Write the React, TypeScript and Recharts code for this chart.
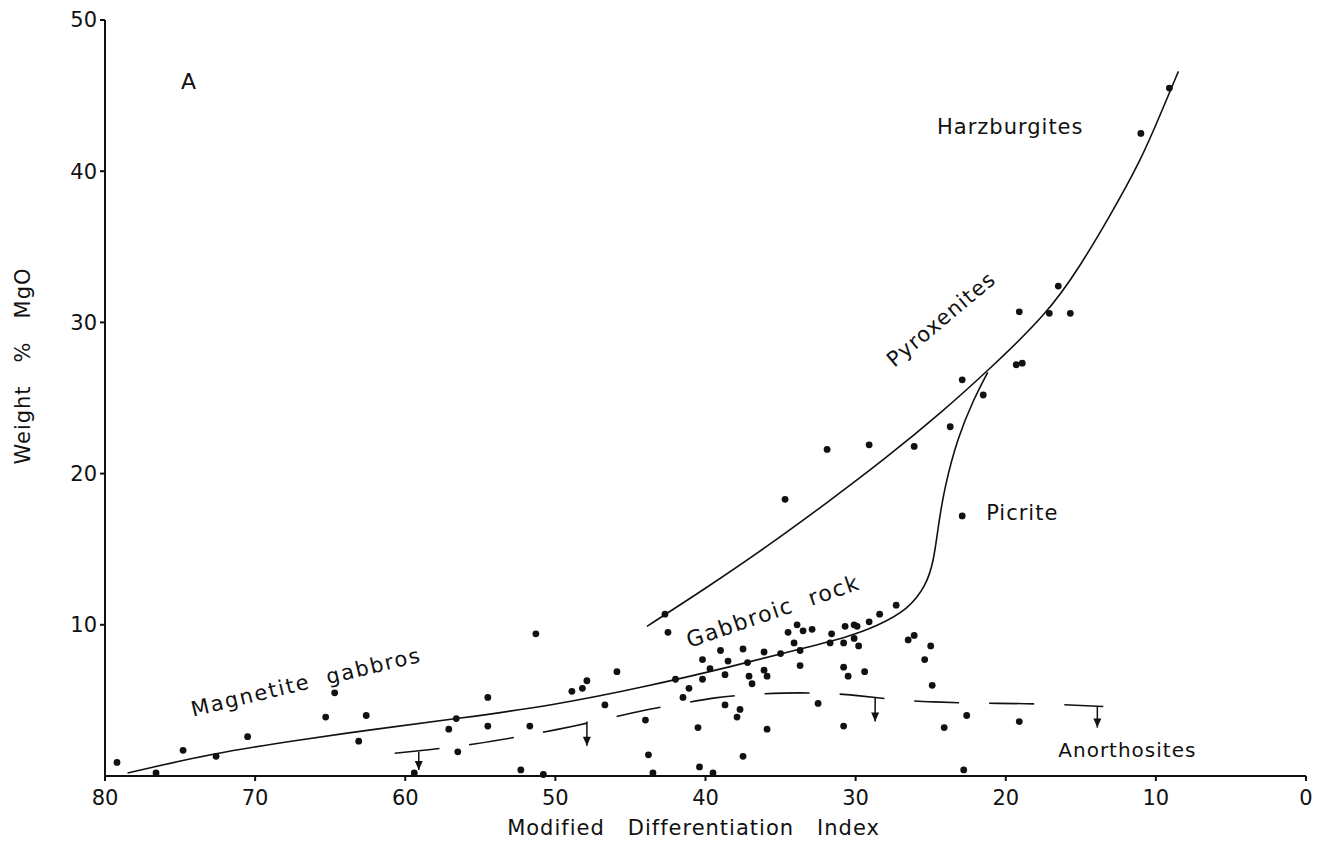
import React from "react";
import {
  ComposedChart,
  XAxis,
  YAxis,
  Scatter,
  Line,
  ReferenceLine,
  ReferenceDot,
} from "recharts";

// sample points (x = Modified Differentiation Index, y = wt% MgO)
const ultramaficPts = [
  { x: 9.1, y: 45.5 }, { x: 11.0, y: 42.5 }, { x: 16.5, y: 32.4 }, { x: 19.1, y: 30.7 },
  { x: 17.1, y: 30.6 }, { x: 15.7, y: 30.6 }, { x: 19.3, y: 27.2 }, { x: 18.9, y: 27.3 },
  { x: 22.9, y: 26.2 }, { x: 21.5, y: 25.2 }, { x: 23.7, y: 23.1 }, { x: 26.1, y: 21.8 },
  { x: 29.1, y: 21.9 }, { x: 31.9, y: 21.6 }, { x: 34.7, y: 18.3 }, { x: 22.9, y: 17.2 },
];

const gabbroPts = [
  { x: 42.7, y: 10.7 }, { x: 42.5, y: 9.5 }, { x: 40.2, y: 7.7 }, { x: 39.0, y: 8.3 },
  { x: 39.7, y: 7.1 }, { x: 38.5, y: 7.6 }, { x: 37.5, y: 8.4 }, { x: 37.2, y: 7.5 },
  { x: 38.7, y: 6.7 }, { x: 40.2, y: 6.4 }, { x: 42.0, y: 6.4 }, { x: 41.1, y: 5.8 },
  { x: 41.5, y: 5.2 }, { x: 37.1, y: 6.6 }, { x: 36.9, y: 6.1 }, { x: 36.1, y: 8.2 },
  { x: 36.1, y: 7.0 }, { x: 35.9, y: 6.6 }, { x: 35.0, y: 8.1 }, { x: 34.5, y: 9.5 },
  { x: 34.1, y: 8.8 }, { x: 33.9, y: 10.0 }, { x: 33.5, y: 9.6 }, { x: 33.7, y: 8.3 },
  { x: 32.9, y: 9.7 }, { x: 33.7, y: 7.3 }, { x: 31.6, y: 9.4 }, { x: 31.7, y: 8.8 },
  { x: 30.7, y: 9.9 }, { x: 30.8, y: 8.8 }, { x: 30.1, y: 10.0 }, { x: 29.9, y: 9.9 },
  { x: 30.1, y: 9.1 }, { x: 29.8, y: 8.6 }, { x: 30.8, y: 7.2 }, { x: 30.5, y: 6.6 },
  { x: 29.4, y: 6.9 }, { x: 29.1, y: 10.2 }, { x: 28.4, y: 10.7 }, { x: 27.3, y: 11.3 },
  { x: 26.5, y: 9.0 }, { x: 26.1, y: 9.3 }, { x: 25.0, y: 8.6 }, { x: 25.4, y: 7.7 },
  { x: 24.9, y: 6.0 },
];

const lowMgPts = [
  { x: 79.2, y: 0.9 }, { x: 76.6, y: 0.2 }, { x: 74.8, y: 1.7 }, { x: 72.6, y: 1.3 },
  { x: 70.5, y: 2.6 }, { x: 65.3, y: 3.9 }, { x: 64.7, y: 5.5 }, { x: 63.1, y: 2.3 },
  { x: 62.6, y: 4.0 }, { x: 59.4, y: 0.2 }, { x: 57.1, y: 3.1 }, { x: 56.6, y: 3.8 },
  { x: 56.5, y: 1.6 }, { x: 54.5, y: 5.2 }, { x: 54.5, y: 3.3 }, { x: 52.3, y: 0.4 },
  { x: 51.7, y: 3.3 }, { x: 51.3, y: 9.4 }, { x: 50.8, y: 0.1 }, { x: 48.9, y: 5.6 },
  { x: 48.2, y: 5.8 }, { x: 47.9, y: 6.3 }, { x: 46.7, y: 4.7 }, { x: 45.9, y: 6.9 },
  { x: 44.0, y: 3.7 }, { x: 43.8, y: 1.4 }, { x: 43.5, y: 0.2 }, { x: 40.5, y: 3.2 },
  { x: 38.7, y: 4.7 }, { x: 37.7, y: 4.4 }, { x: 37.9, y: 3.9 }, { x: 35.9, y: 3.1 },
  { x: 32.5, y: 4.8 }, { x: 30.8, y: 3.3 }, { x: 24.1, y: 3.2 }, { x: 22.6, y: 4.0 },
  { x: 40.4, y: 0.6 }, { x: 39.5, y: 0.2 }, { x: 37.5, y: 1.3 }, { x: 22.8, y: 0.4 },
  { x: 19.1, y: 3.6 },
];

// hand-drawn trend curves
const gabbroCurve = [
  { x: 78.5, y: 0.2 }, { x: 72.8, y: 1.5 }, { x: 67, y: 2.4 }, { x: 62, y: 3.1 },
  { x: 56.5, y: 3.8 }, { x: 50, y: 4.7 }, { x: 44, y: 5.9 }, { x: 38, y: 7.3 },
  { x: 33.7, y: 8.4 }, { x: 30.5, y: 9.2 }, { x: 28.6, y: 9.9 }, { x: 26.5, y: 11.0 },
  { x: 25.3, y: 12.6 }, { x: 24.8, y: 14.2 }, { x: 24.5, y: 16.5 }, { x: 24.1, y: 19.0 },
  { x: 23.2, y: 22.4 }, { x: 22.1, y: 25.0 }, { x: 21.2, y: 26.7 },
];

const pyroxeniteCurve = [
  { x: 43.9, y: 9.9 }, { x: 40, y: 12.4 }, { x: 36, y: 15.1 }, { x: 32, y: 18.0 },
  { x: 28, y: 21.0 }, { x: 24.1, y: 24.2 }, { x: 21.2, y: 26.8 }, { x: 17.2, y: 30.6 },
  { x: 15, y: 33.8 }, { x: 13.2, y: 36.8 }, { x: 11, y: 40.7 }, { x: 9.6, y: 44.0 },
  { x: 8.5, y: 46.6 },
];

const anorthositeLimit = [
  { x: 60.7, y: 1.5 }, { x: 57.8, y: 1.8 }, { x: 55.4, y: 2.1 }, { x: 52.4, y: 2.6 },
  { x: 50.2, y: 3.0 }, { x: 46.9, y: 3.7 }, { x: 45.2, y: 4.1 }, { x: 43.9, y: 4.4 },
  { x: 41.5, y: 4.8 }, { x: 39.4, y: 5.2 }, { x: 37, y: 5.4 }, { x: 35, y: 5.5 },
  { x: 32, y: 5.5 }, { x: 29.6, y: 5.3 }, { x: 27, y: 5.0 }, { x: 24.9, y: 4.9 },
  { x: 22, y: 4.8 }, { x: 18, y: 4.8 }, { x: 13.5, y: 4.6 },
];

const arrows = [
  { x: 59.1, top: 1.6, tip: 0.4 },
  { x: 47.9, top: 3.6, tip: 2.0 },
  { x: 28.7, top: 5.2, tip: 3.6 },
  { x: 13.9, top: 4.6, tip: 3.2 },
];

const notes = [
  { text: "A", x: 74.4, y: 45.9, angle: 0, size: 22, spacing: 1 },
  { text: "Harzburgites", x: 19.7, y: 42.9, angle: 0, size: 21, spacing: 1 },
  { text: "Pyroxenites", x: 24.3, y: 30.2, angle: -40, size: 21, spacing: 1.2 },
  { text: "Picrite", x: 18.9, y: 17.4, angle: 0, size: 21, spacing: 1 },
  { text: "Gabbroic  rock", x: 35.5, y: 10.9, angle: -19, size: 22, spacing: 1.6 },
  { text: "Magnetite  gabbros", x: 66.6, y: 6.2, angle: -13.5, size: 21, spacing: 1.8 },
  { text: "Anorthosites", x: 11.9, y: 1.7, angle: 0, size: 20, spacing: 1 },
];

const xTicks = [80, 70, 60, 50, 40, 30, 20, 10, 0];
const yTicks = [10, 20, 30, 40, 50];

const INK = "#111";
const FONT = "'DejaVu Sans', sans-serif";

const dot = (p: any) => <circle cx={p.cx} cy={p.cy} r={3.4} fill={INK} />;

const arrowHead = (p: any) => (
  <path d={`M${p.cx - 4},${p.cy - 9} L${p.cx + 4},${p.cy - 9} L${p.cx},${p.cy} Z`} fill={INK} />
);

const noteShape = (n: (typeof notes)[number]) => (p: any) => (
  <text
    x={p.cx}
    y={p.cy}
    transform={`rotate(${n.angle} ${p.cx} ${p.cy})`}
    textAnchor="middle"
    dominantBaseline="central"
    fontFamily={FONT}
    fontSize={n.size}
    letterSpacing={n.spacing}
    fill={INK}
    style={{ whiteSpace: "pre" }}
  >
    {n.text}
  </text>
);

export default function App() {
  return (
    <div style={{ position: "absolute", left: 0, top: 0, width: 1330, height: 842, background: "#fff" }}>
      <ComposedChart width={1330} height={842} margin={{ top: 20, right: 24, bottom: 0, left: 0 }}>
        <XAxis
          dataKey="x"
          type="number"
          domain={[0, 80]}
          reversed
          ticks={xTicks}
          interval={0}
          height={66}
          tickSize={5}
          tickMargin={9}
          stroke={INK}
          strokeWidth={2}
          tick={{ fontSize: 21, fontFamily: FONT, fill: INK }}
          label={{
            content: (props: any) => {
              const vb = props.viewBox;
              return (
                <text x={vb.x + vb.width / 2 - 12} y={835} textAnchor="middle" fontFamily={FONT} fontSize={21}
                  letterSpacing={1} fill={INK} style={{ whiteSpace: "pre" }}>
                  {"Modified   Differentiation   Index"}
                </text>
              );
            },
          }}
        />
        <YAxis
          dataKey="y"
          type="number"
          domain={[0, 50]}
          ticks={yTicks}
          interval={0}
          width={105}
          tickSize={5}
          tickMargin={3}
          stroke={INK}
          strokeWidth={2}
          tick={{ fontSize: 21, fontFamily: FONT, fill: INK }}
          label={{
            content: (props: any) => {
              const vb = props.viewBox;
              const cx = vb.x + 23;
              const cy = vb.y + vb.height / 2 - 32;
              return (
                <text x={cx} y={cy} transform={`rotate(-90 ${cx} ${cy})`} textAnchor="middle"
                  dominantBaseline="central" fontFamily={FONT} fontSize={21} letterSpacing={1} fill={INK}
                  style={{ whiteSpace: "pre" }}>
                  {"Weight   %   MgO"}
                </text>
              );
            },
          }}
        />

        <Line data={gabbroCurve} dataKey="y" type="basis" dot={false} stroke={INK} strokeWidth={1.6} isAnimationActive={false} />
        <Line data={pyroxeniteCurve} dataKey="y" type="basis" dot={false} stroke={INK} strokeWidth={1.6} isAnimationActive={false} />
        <Line data={anorthositeLimit} dataKey="y" type="basis" dot={false} stroke={INK} strokeWidth={1.6}
          strokeDasharray="45 30" isAnimationActive={false} />

        {arrows.map((a, i) => (
          <ReferenceLine key={`al${i}`} segment={[{ x: a.x, y: a.top }, { x: a.x, y: a.tip }]} stroke={INK} strokeWidth={1.5} ifOverflow="visible" />
        ))}
        {arrows.map((a, i) => (
          <ReferenceDot key={`ah${i}`} x={a.x} y={a.tip} r={0} shape={arrowHead} ifOverflow="visible" />
        ))}

        <Scatter data={ultramaficPts} dataKey="y" shape={dot} isAnimationActive={false} />
        <Scatter data={gabbroPts} dataKey="y" shape={dot} isAnimationActive={false} />
        <Scatter data={lowMgPts} dataKey="y" shape={dot} isAnimationActive={false} />

        {notes.map((n, i) => (
          <ReferenceDot key={`n${i}`} x={n.x} y={n.y} r={0} shape={noteShape(n)} ifOverflow="visible" />
        ))}
      </ComposedChart>
    </div>
  );
}
